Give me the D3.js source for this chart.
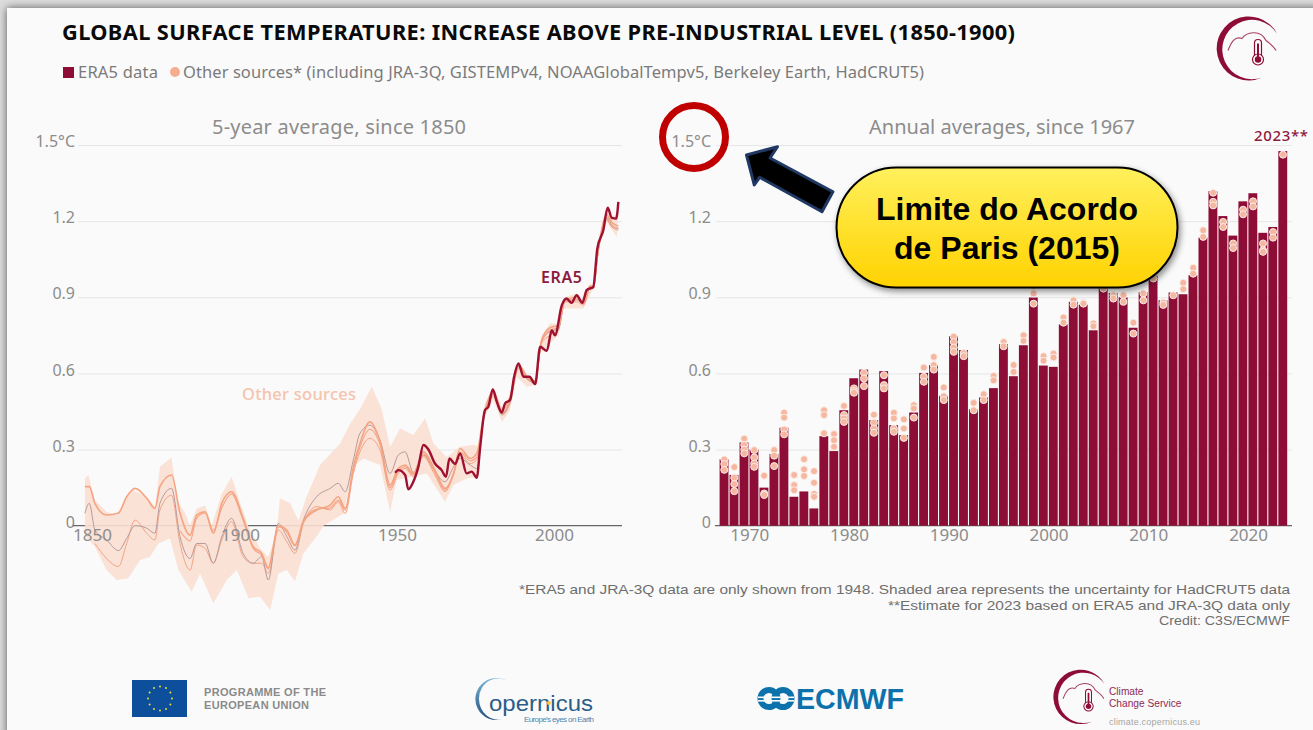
<!DOCTYPE html>
<html>
<head>
<meta charset="utf-8">
<script src="https://cdn.jsdelivr.net/npm/d3@7"></script>
<style>
  html, body { margin: 0; padding: 0; background: #b9b9b9; overflow: hidden; }
  text { font-family: "Noto Sans", sans-serif; }
  .axis path { display: none; }
  .axis text { font-size: 16px; fill: #8c8c8c; }
  .x-axis text { font-size: 17px; }
  .y-axis line { stroke: #e6e6e6; }
  .x-axis line { display: none; }
  text.logo-text { font-family: "Liberation Sans", sans-serif; }
</style>
</head>
<body>
<div id="d3-container"></div>
<script>
// left panel, 5-year averages
const otherYears = [1850.6,1852,1853.8,1857.5,1861.3,1863.9,1866.6,1870.3,1872.9,1874.5,1878.2,1880.9,1884.1,1886.2,1888.9,1891.5,1894.2,1897.3,1901,1904.2,1906.9,1909,1912.2,1914.9,1917.5,1920.2,1924.4,
  1928.7,1931.3,1933.5,1936.1,1938.2,1941.4,1944.6,1947.8,1950.4,1952.6,1955.2,1958.4,1962.1,1965.3,1968,1970.1,1973.3,1975.4,
  1977.5,1980.7,1983.4,1986,1988.7,1991.8,1994,1996,1998.7,2001.4,2003.5,2007.2,2009.4,2011.5,2012.5,2014.1,2016.8,2018.4,2020.5];
const hadcrut = [.154,.154,.088,.042,.05,.114,.147,.108,.068,.154,.2,.05,-.037,.042,.055,-.03,.088,.134,.03,-.083,-.109,-.165,0,-.017,-.076,.016,.062,
  .081,.114,.068,.232,.324,.409,.331,.16,.226,.239,.206,.291,.219,.147,.206,.304,.265,.285,
  .429,.528,.455,.508,.635,.58,.57,.73,.78,.79,.89,.9,.88,.945,.94,1.09,1.225,1.195,1.18];
const berkeley = [.049,.088,-.017,-.056,-.098,-.05,0,-.01,-.03,.088,.147,-.043,-.129,-.07,-.07,-.148,-.043,.029,-.109,-.148,-.122,-.214,.009,-.043,-.096,.022,.114,
  .147,.167,.134,.259,.364,.396,.337,.206,.278,.291,.21,.278,.213,.173,.232,.265,.239,.225,
  .415,.515,.44,.49,.625,.575,.56,.725,.765,.775,.885,.89,.875,.94,.935,1.085,1.215,1.185,1.17];
const noaa = [null,null,-.07,-.129,-.161,-.07,.022,-.03,-.056,.062,.12,-.07,-.175,-.076,-.089,-.148,-.056,.016,-.122,-.148,-.148,-.188,-.017,-.063,-.109,.009,.075,
  .062,.094,.048,.206,.291,.344,.298,.14,.206,.226,.193,.272,.199,.134,.2,.278,.245,.259,
  .416,.508,.436,.482,.619,.573,.567,.718,.75,.77,.882,.882,.869,.934,.934,1.079,1.203,1.177,1.164];
const gistemp = [null,null,null,null,null,null,null,null,null,null,null,-.02,-.06,.03,.05,-.02,.07,.125,.02,-.09,-.118,-.17,-.005,-.025,-.08,.02,.065,
  .07,.10,.06,.22,.31,.38,.32,.15,.215,.232,.2,.282,.21,.14,.205,.29,.255,.27,
  .42,.52,.445,.495,.628,.578,.565,.722,.77,.782,.886,.892,.875,.94,.935,1.083,1.21,1.18,1.172];

const bandUpper = [[1850.6,.186],[1851.7,.2],[1853.8,.1],[1857.5,.055],[1860.7,.042],[1864,.12],[1866,.14],[1870.3,.114],[1873,.075],[1874.5,.232],[1878.2,.269],[1880,.1],[1882.5,.05],[1884,0],[1886.2,.068],[1888.9,.08],[1891,0],[1894,.12],[1897.3,.193],[1900.5,.075],[1902.6,0],[1906.4,-.09],[1909,-.122],[1911.7,-.03],[1912.7,.108],[1916,.088],[1918.6,.02],[1921.2,.114],[1925.5,.239],[1931.9,.324],[1935,.4],[1938.2,.46],[1942,.547],[1945.1,.46],[1947.8,.311],[1951,.383],[1955.2,.357],[1959,.423],[1961.6,.324],[1965.8,.27],[1970,.311],[1974.3,.318],[1976.5,.311],[1978,.48],[1980.7,.547],[1983.4,.468],[1986,.5],[1988.7,.64],[1991.8,.587],[1994,.573],[1996,.744],[1998.7,.797],[2001.4,.797],[2003.5,.9],[2007.2,.915],[2009.4,.888],[2011.5,.954],[2012.5,.947],[2014.1,1.098],[2016.8,1.249],[2018.4,1.217],[2020.5,1.23]];
const bandLower = [[1850.6,-.04],[1853.8,-.083],[1857.5,-.175],[1860.7,-.214],[1864.4,-.207],[1868.2,-.135],[1871.3,-.122],[1874,-.07],[1877.7,-.05],[1880.4,-.175],[1884.6,-.26],[1887.3,-.188],[1891.5,-.306],[1895.8,-.214],[1899,-.175],[1902.7,-.286],[1906.4,-.28],[1909.6,-.332],[1912.2,-.188],[1914.9,-.175],[1917.5,-.22],[1920.2,-.109],[1924.4,-.043],[1926.6,0],[1933,.048],[1936,.232],[1939.3,.265],[1944.6,.239],[1947.8,.055],[1949.9,.18],[1954.2,.193],[1959.5,.206],[1965.3,.094],[1968,.16],[1972.2,.186],[1975.4,.193],[1977.5,.416],[1980.7,.495],[1983.4,.409],[1986,.455],[1988.1,.587],[1991.3,.547],[1994,.554],[1995.6,.678],[1998.7,.718],[2001.4,.75],[2003,.856],[2007.2,.856],[2009.4,.856],[2012.5,.934],[2014.1,1.09],[2016.8,1.197],[2020,1.138]];

const era5Line = [[1949.4,.209],[1950.4,.219],[1952.6,.2],[1953.6,.143],[1955.2,.173],[1956.8,.232],[1958.4,.318],[1960,.3],[1962.1,.245],[1964.2,.219],[1965.6,.193],[1966.7,.265],[1968.5,.243],[1970.1,.285],[1972.2,.206],[1973.8,.213],[1975.4,.189],[1976.5,.311],[1978,.455],[1979.1,.469],[1980.5,.537],[1981.8,.488],[1983.4,.446],[1984.4,.482],[1986,.495],[1987.3,.587],[1988.7,.639],[1990.3,.587],[1992.2,.587],[1994,.558],[1995.6,.705],[1997.7,.689],[1999.3,.77],[2000.3,.75],[2002.5,.869],[2004,.895],[2005.6,.878],[2007.2,.908],[2009,.878],[2010.4,.928],[2012.5,.941],[2013.8,1.092],[2015.7,1.164],[2017.1,1.253],[2018.4,1.213],[2019.8,1.21],[2020.5,1.276]];

// right panel, annual averages
const barYears = d3.range(1967, 2024);
const era5Annual = [.262,.2,.328,.3,.15,.282,.386,.114,.135,.068,.353,.294,.455,.581,.615,.416,.609,.396,.357,.446,.602,.633,.512,.747,.692,.459,.505,.542,.715,.589,.711,.899,.631,.626,.793,.882,.871,.77,.945,.917,.9,.78,.92,.985,.888,.919,.912,.987,1.135,1.318,1.22,1.143,1.278,1.31,1.154,1.177,1.476];
const otherAnnual = [[.261,.243,.22],[.231,.189,.164,.136],[.343,.318,.3,.285],[.298,.269,.245,.232],[.197,.127,.121],[.298,.276,.235],[.445,.426,.379,.36],[.2,.16,.14],[.262,.222,.196],[.215,.169,.125,.114],[.455,.436,.364],[.361,.337,.311],[.472,.436,.423,.409],[.541,.531,.524],[.602,.58,.55],[.437,.406,.383,.366],[.593,.554,.541],[.445,.423,.383,.37],[.419,.383,.346],[.475,.462,.426],[.623,.587,.567],[.665,.633,.615],[.545,.51,.495],[.745,.724,.702,.685],[.68,.668],[.484,.455],[.518,.495],[.59,.573],[.724,.707],[.633,.606],[.75,.728],[.945,.915,.875],[.668,.65],[.678,.663],[.82,.8],[.888,.871],[.879,.875],[.797,.786],[.934],[.908,.895],[.908,.882],[.8,.757],[.915,.888],[.974],[.879,.87],[.908],[.957,.932],[1.016,.993],[1.164,1.138],[1.312,1.276,1.262],[1.197,1.177],[1.112,1.094],[1.245,1.227],[1.278,1.258],[1.112,1.085,1.079],[1.157,1.135],[1.462]];

const yTicks = [0, .3, .6, .9, 1.2, 1.5];
const leftXTicks = [1850, 1900, 1950, 2000];
const rightXTicks = [1970, 1980, 1990, 2000, 2010, 2020];
const footnotes = ["*ERA5 and JRA-3Q data are only shown from 1948. Shaded area represents the uncertainty for HadCRUT5 data",
  "**Estimate for 2023 based on ERA5 and JRA-3Q data only", "Credit: C3S/ECMWF"];
const footnoteWidths = [771, 402, 131];

const width = 1313, height = 730,
  yZero = 525.7, yTop = 145,
  barColor = "#8e0d36", otherColor = "#f5ad90", grey = "#8c8c8c";

const svg = d3.select("#d3-container").append("svg")
  .attr("width", width).attr("height", height).style("display", "block");

const defs = svg.append("defs");
const shadow = defs.append("filter").attr("id", "shadow").attr("x", "-20%").attr("y", "-20%").attr("width", "140%").attr("height", "140%");
shadow.append("feDropShadow").attr("dx", 2).attr("dy", 3).attr("stdDeviation", 3).attr("flood-opacity", .45);
const pillFill = defs.append("linearGradient").attr("id", "pillFill").attr("x1", 0).attr("x2", 0).attr("y1", 0).attr("y2", 1);
pillFill.append("stop").attr("offset", "0%").attr("stop-color", "#fff05c");
pillFill.append("stop").attr("offset", "100%").attr("stop-color", "#ffd200");
const slideShade = defs.append("filter").attr("id", "slideShade").attr("x", "-5%").attr("y", "-5%").attr("width", "110%").attr("height", "110%");
slideShade.append("feDropShadow").attr("dx", 0).attr("dy", 0).attr("stdDeviation", 4).attr("flood-color", "#000").attr("flood-opacity", .6);

// slide background, runs off the bottom and right of the window
svg.append("rect").attr("width", width).attr("height", height).attr("fill", "#dcdcdc");
svg.append("rect").attr("x", 7).attr("y", 8).attr("width", width).attr("height", height)
  .attr("fill", "#fafafa").attr("filter", "url(#slideShade)");

// header
svg.append("text").attr("x", 62).attr("y", 40).attr("font-size", 21.8).attr("font-weight", 700).attr("fill", "#0a0a0a")
  .attr("textLength", 953).attr("lengthAdjust", "spacing")
  .text("GLOBAL SURFACE TEMPERATURE: INCREASE ABOVE PRE-INDUSTRIAL LEVEL (1850-1900)");
svg.append("rect").attr("x", 63).attr("y", 67).attr("width", 11).attr("height", 11).attr("fill", barColor);
svg.append("text").attr("x", 78).attr("y", 78).attr("font-size", 16.5).attr("fill", "#7a7a7a")
  .attr("textLength", 80).text("ERA5 data");
svg.append("circle").attr("cx", 175).attr("cy", 72).attr("r", 5).attr("fill", otherColor);
svg.append("text").attr("x", 183).attr("y", 78).attr("font-size", 16.5).attr("fill", "#7a7a7a")
  .attr("textLength", 741).attr("lengthAdjust", "spacing")
  .text("Other sources* (including JRA-3Q, GISTEMPv4, NOAAGlobalTempv5, Berkeley Earth, HadCRUT5)");

svg.append("text").attr("x", 339).attr("y", 134).attr("text-anchor", "middle").attr("font-size", 20).attr("fill", grey)
  .attr("textLength", 254).text("5-year average, since 1850");
svg.append("text").attr("x", 1002).attr("y", 134).attr("text-anchor", "middle").attr("font-size", 20).attr("fill", grey)
  .attr("textLength", 266).text("Annual averages, since 1967");

const yScale = d3.scaleLinear().domain([0, 1.5]).range([yZero, yTop]);
const xLeft = d3.scaleLinear().domain([1850, 2000]).range([83, 554]);
const xRight = d3.scaleLinear().domain([1967, 2024]).range([719.3, 1288]);

function yAxisFor(x, gridLeft, gridRight, padding) {
  const g = svg.append("g").attr("class", "axis y-axis").attr("transform", `translate(${gridLeft},0)`)
    .call(d3.axisLeft(yScale).tickValues(yTicks).tickSize(gridLeft - gridRight).tickPadding(padding)
      .tickFormat(d => d === 1.5 ? "1.5°C" : d === 0 ? "0" : d3.format(".1f")(d)));
  g.selectAll("text").attr("dy", "0.1em");
  g.selectAll("line").filter(d => d === 0).remove();
  svg.append("line").attr("x1", x).attr("x2", gridRight).attr("y1", yZero).attr("y2", yZero)
    .attr("stroke", "#666").attr("stroke-width", 1.3);
}

// left panel
yAxisFor(73, 78, 622, 3);
const bandLine = d3.line().x(d => xLeft(d[0])).y(d => yScale(d[1]));
const lineLeft = d3.line().curve(d3.curveMonotoneX).x(d => xLeft(d[0])).y(d => yScale(d[1]));

svg.append("path")
  .attr("d", bandLine(bandUpper.concat(bandLower.slice().reverse())) + "Z")
  .attr("fill", "#f9dfd2").attr("opacity", .9);

const otherLine = d3.line().curve(d3.curveMonotoneX).defined(d => d[1] !== null).x(d => xLeft(d[0])).y(d => yScale(d[1]));
const otherSeries = [
  { values: noaa, color: "#f4a384", w: 1 },
  { values: berkeley, color: "#b59a9c", w: 1 },
  { values: gistemp, color: "#f4a384", w: 1.1 },
  { values: hadcrut, color: "#f5a482", w: 1.6 }
];
svg.selectAll("path.other").data(otherSeries).join("path").attr("class", "other")
  .attr("fill", "none").attr("stroke", d => d.color).attr("stroke-width", d => d.w)
  .attr("d", d => otherLine(otherYears.map((y, i) => [y, d.values[i]])));

svg.append("path").attr("d", lineLeft(era5Line)).attr("fill", "none")
  .attr("stroke", "#a01030").attr("stroke-width", 2.4).attr("stroke-linejoin", "round");

const xAxisLeft = svg.append("g").attr("class", "axis x-axis").attr("transform", `translate(0,${yZero})`)
  .call(d3.axisBottom(xLeft).tickValues(leftXTicks).tickFormat(d3.format("d")).tickSize(0).tickPadding(3));
// first label is pushed in from the axis end
xAxisLeft.selectAll("text").attr("dx", d => d === 1850 ? 9 : 0);

svg.append("text").attr("x", 242).attr("y", 400).attr("font-size", 16.5).attr("font-weight", 500).attr("fill", "#f6c3ac")
  .attr("textLength", 114).text("Other sources");
svg.append("text").attr("x", 541).attr("y", 283).attr("font-size", 16).attr("font-weight", 600).attr("fill", "#8e1a40")
  .attr("textLength", 41).text("ERA5");

// right panel
yAxisFor(715, 716, 1292, 5);
svg.selectAll("rect.bar").data(barYears).join("rect").attr("class", "bar")
  .attr("x", d => xRight(d) + .3)
  .attr("width", d => xRight(d + 1) - xRight(d) - 1.1)
  .attr("y", (d, i) => yScale(era5Annual[i]))
  .attr("height", (d, i) => yZero - yScale(era5Annual[i]))
  .attr("fill", barColor);

const dots = barYears.flatMap((y, i) => otherAnnual[i].map(v => ({ y, v })));
svg.selectAll("circle.dot").data(dots).join("circle").attr("class", "dot")
  .attr("cx", d => (xRight(d.y) + xRight(d.y + 1)) / 2)
  .attr("cy", d => yScale(d.v))
  .attr("r", 3.5)
  .attr("fill", "#f5b7a0").attr("stroke", "#fbeee8").attr("stroke-width", 1);

svg.append("g").attr("class", "axis x-axis").attr("transform", `translate(0,${yZero})`)
  .call(d3.axisBottom(xRight).tickValues(rightXTicks).tickFormat(d3.format("d")).tickSize(0).tickPadding(3));

svg.append("text").attr("x", 1254).attr("y", 141).attr("font-size", 15).attr("font-weight", 500).attr("fill", "#8e1a40")
  .attr("textLength", 54).text("2023**");

// footnotes, tight leading so a font with a small line box
svg.selectAll("text.foot").data(footnotes).join("text").attr("class", "foot logo-text")
  .attr("x", 1290).attr("y", (d, i) => 594 + i * 15.5).attr("text-anchor", "end")
  .attr("font-size", 13.4).attr("fill", "#6e6e6e")
  .attr("textLength", (d, i) => footnoteWidths[i]).attr("lengthAdjust", "spacingAndGlyphs").text(d => d);

// annotation added on top of the chart
svg.append("circle").attr("cx", 694).attr("cy", 137).attr("r", 31.5).attr("fill", "none")
  .attr("stroke", "#c00000").attr("stroke-width", 7);
svg.append("path").attr("d", "M746.5,155 L777.5,146.7 L770,158 L832.9,191.7 L822,211.7 L759.6,177.3 L754.3,185 Z")
  .attr("fill", "#000").attr("stroke", "#1f3864").attr("stroke-width", 3).attr("stroke-linejoin", "round");
svg.append("rect").attr("x", 836.5).attr("y", 167.5).attr("width", 341).attr("height", 120).attr("rx", 60)
  .attr("fill", "url(#pillFill)").attr("stroke", "#000").attr("stroke-width", 2).attr("filter", "url(#shadow)");
svg.selectAll("text.badge").data(["Limite do Acordo", "de Paris (2015)"]).join("text").attr("class", "badge logo-text")
  .attr("x", 1007).attr("y", (d, i) => 220 + i * 39).attr("text-anchor", "middle")
  .attr("font-size", 32).attr("font-weight", 700).attr("fill", "#000").text(d => d);

// logos
function c3sLogo(cx, cy, s) {
  const g = svg.append("g").attr("transform", `translate(${cx},${cy}) scale(${s})`);
  g.append("path").attr("fill", barColor)
    .attr("d", "M29,-15 A32,32 0 1 0 14,29 A29.7,29.7 0 1 1 29,-15 Z");
  g.append("path").attr("fill", "none").attr("stroke", "#a8446a").attr("stroke-width", 1.2)
    .attr("d", "M-20,2 C-17,-6 -13,-13 -6,-10 C-2,-16 12,-20 18,-8 C22,-5 26,-2 28,2");
  g.append("rect").attr("x", 6.5).attr("y", -9).attr("width", 7).attr("height", 20).attr("rx", 3.5)
    .attr("fill", "#fafafa").attr("stroke", barColor).attr("stroke-width", 1.2);
  g.append("circle").attr("cx", 10).attr("cy", 11).attr("r", 5.5).attr("fill", "#fafafa").attr("stroke", barColor).attr("stroke-width", 1.2);
  g.append("circle").attr("cx", 10).attr("cy", 11).attr("r", 3.2).attr("fill", barColor);
  g.append("rect").attr("x", 9).attr("y", -5).attr("width", 2).attr("height", 14).attr("fill", barColor);
}
c3sLogo(1248, 48.5, 1);
c3sLogo(1080, 697, .85);
svg.selectAll("text.c3s").data(["Climate", "Change Service"]).join("text").attr("class", "c3s logo-text")
  .attr("x", 1109).attr("y", (d, i) => 695 + i * 12).attr("font-size", 10.2).attr("fill", "#8e2a55").text(d => d);
svg.append("text").attr("class", "logo-text").attr("x", 1109).attr("y", 725).attr("font-size", 9).attr("fill", "#a5a5a5")
  .attr("textLength", 91).text("climate.copernicus.eu");

// EU flag
svg.append("rect").attr("x", 132).attr("y", 680).attr("width", 55).attr("height", 37).attr("fill", "#0e4f9c");
svg.selectAll("circle.star").data(d3.range(12)).join("circle").attr("class", "star")
  .attr("cx", d => 160 + 12 * Math.cos(d * Math.PI / 6))
  .attr("cy", d => 698.5 + 12 * Math.sin(d * Math.PI / 6))
  .attr("r", 1).attr("fill", "#e6dd3c");
svg.selectAll("text.eu").data(["PROGRAMME OF THE", "EUROPEAN UNION"]).join("text").attr("class", "eu logo-text")
  .attr("x", 204).attr("y", (d, i) => 696 + i * 13).attr("font-size", 11).attr("font-weight", 700).attr("fill", "#8a8a8a")
  .attr("textLength", (d, i) => i ? 105 : 122).text(d => d);

// Copernicus
const copFill = defs.append("linearGradient").attr("id", "copFill").attr("x1", 0).attr("x2", 0).attr("y1", 0).attr("y2", 1);
copFill.append("stop").attr("offset", "0%").attr("stop-color", "#7db7d6");
copFill.append("stop").attr("offset", "100%").attr("stop-color", "#1f4f7f");
svg.append("path").attr("fill", "url(#copFill)")
  .attr("d", "M512,685 A21,21 0 1 0 503,719 A19,21 0 0 1 479,699 A19,20 0 0 1 512,685 Z");
svg.append("text").attr("class", "logo-text").attr("x", 489).attr("y", 711).attr("font-size", 22).attr("fill", "#2a5d88")
  .attr("textLength", 104).attr("lengthAdjust", "spacingAndGlyphs").text("opernicus");
svg.append("circle").attr("cx", 549).attr("cy", 703).attr("r", 2).attr("fill", "#f3c94e");
svg.append("text").attr("class", "logo-text").attr("x", 524).attr("y", 722).attr("font-size", 8).attr("fill", "#4b86b2")
  .attr("textLength", 70).text("Europe's eyes on Earth");

// ECMWF
const ecColor = "#0d72ab";
[769, 783].forEach(cx => svg.append("circle").attr("cx", cx).attr("cy", 698.5).attr("r", 8.5)
  .attr("fill", "none").attr("stroke", ecColor).attr("stroke-width", 6));
svg.append("rect").attr("x", 758).attr("y", 696.5).attr("width", 36).attr("height", 1.6).attr("fill", "#fafafa");
svg.append("rect").attr("x", 758).attr("y", 700).attr("width", 36).attr("height", 1.6).attr("fill", "#fafafa");
svg.append("text").attr("class", "logo-text").attr("x", 796).attr("y", 709).attr("font-size", 29).attr("font-weight", 700)
  .attr("fill", ecColor).attr("textLength", 108).attr("lengthAdjust", "spacingAndGlyphs").text("ECMWF");
</script>
</body>
</html>
